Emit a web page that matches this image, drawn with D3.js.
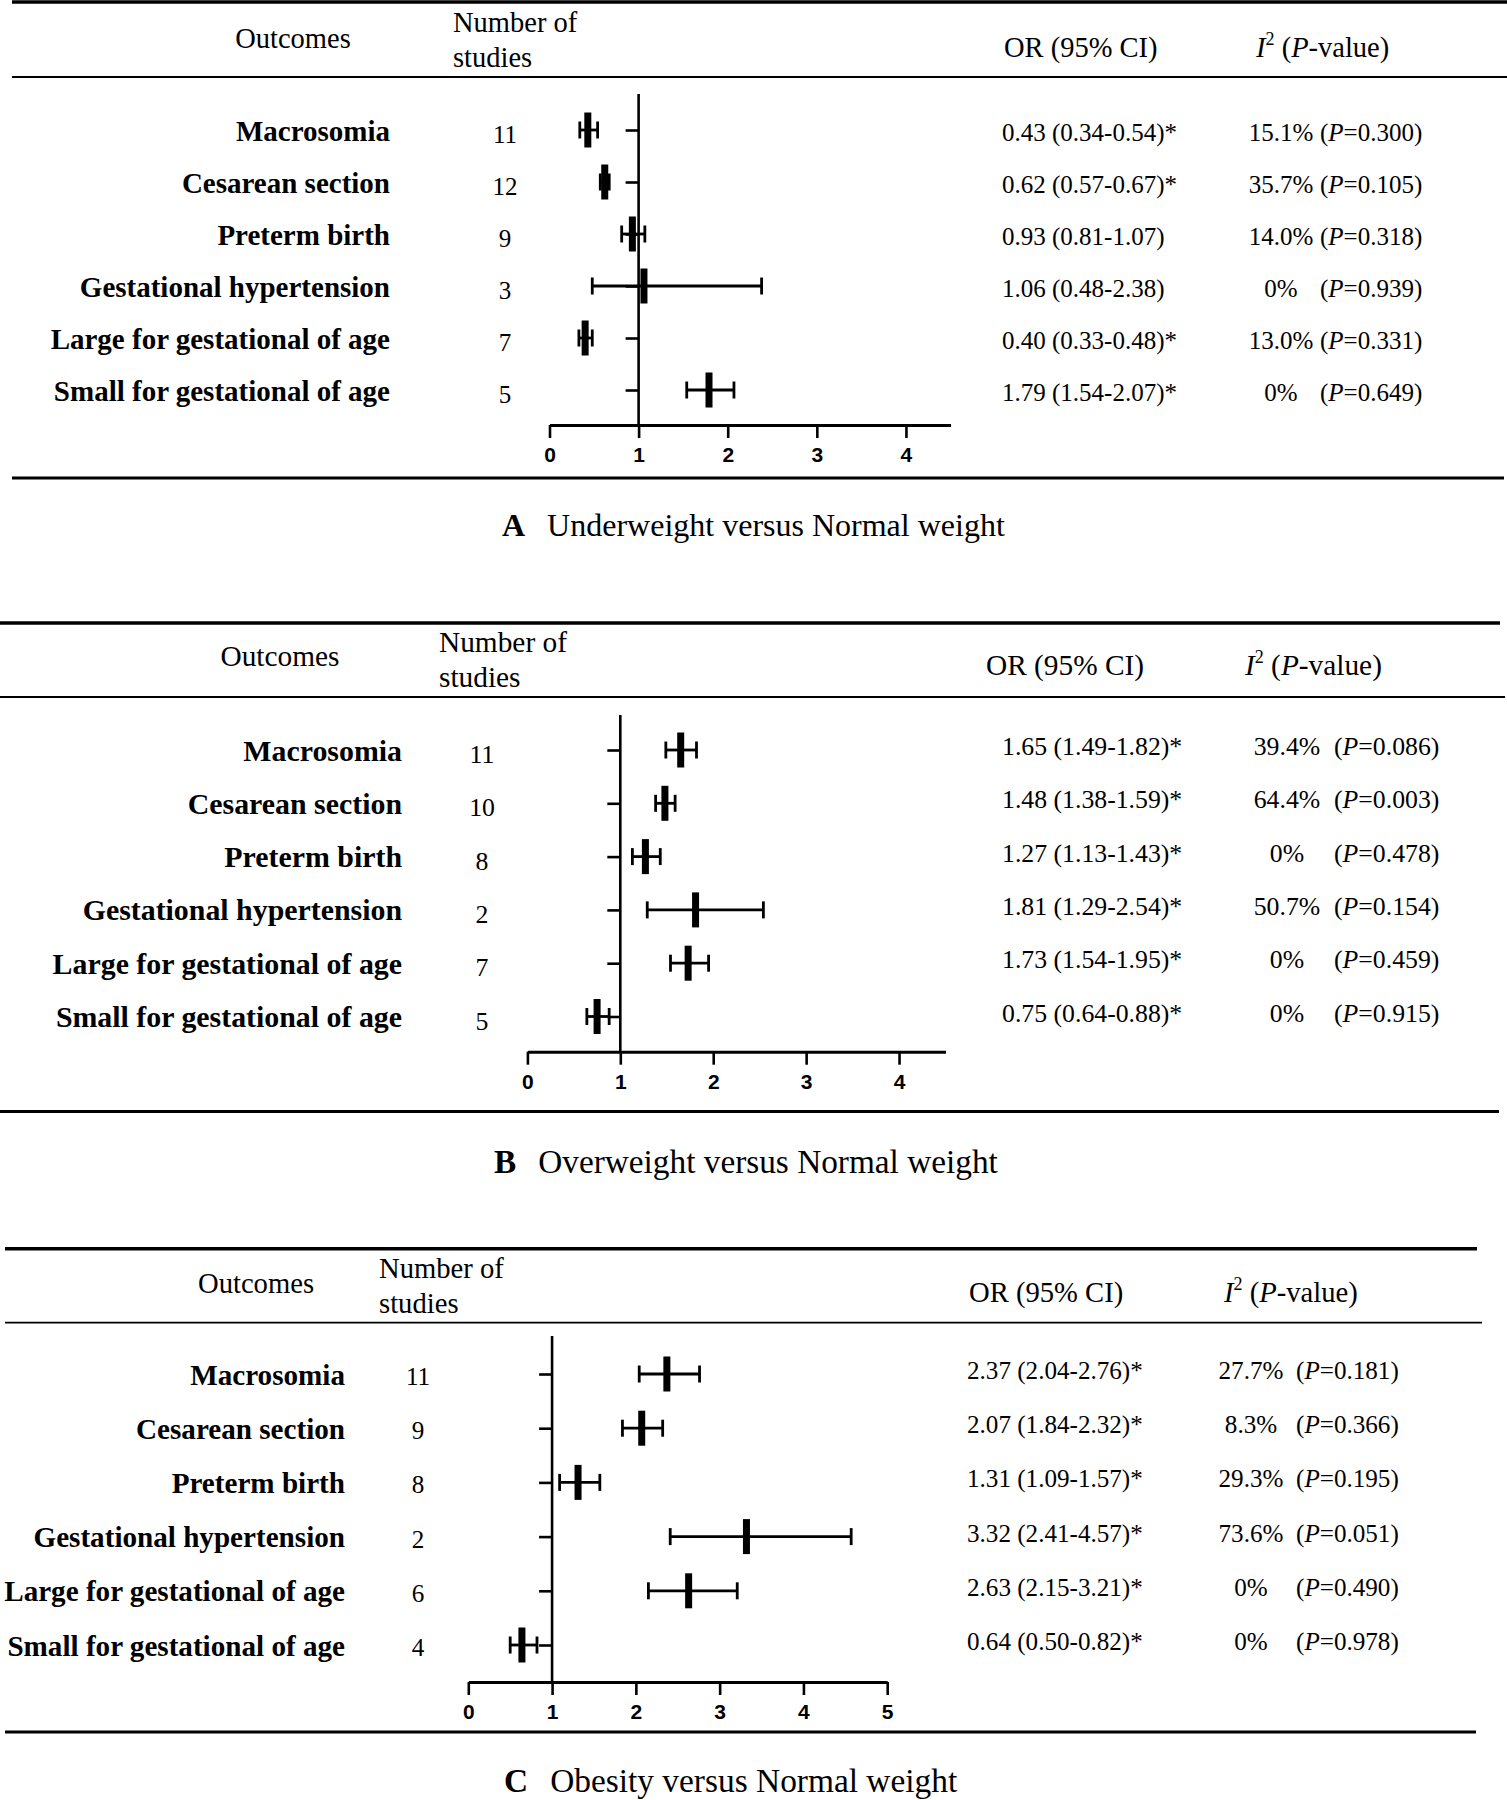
<!DOCTYPE html>
<html>
<head>
<meta charset="utf-8">
<script src="https://d3js.org/d3.v7.min.js"></script>
<style>
  body { margin: 0; background: #fff; }
  svg { display: block; background: #fff; }
  .serif { font-family: "Liberation Serif", "Times New Roman", serif; fill: #000; }
  .label { font-weight: bold; }
  .axis text { font-family: "Liberation Sans", Arial, sans-serif; font-weight: bold; font-size: 21px; fill: #000; }
  .axis path, .axis line { stroke: #000; }
</style>
</head>
<body>
<div id="chart"></div>
<script>

// DATA

var outcomes = [
    'Macrosomia',
    'Cesarean section',
    'Preterm birth',
    'Gestational hypertension',
    'Large for gestational of age',
    'Small for gestational of age'
];

// A  Underweight versus Normal weight
var studiesA = [11, 12, 9, 3, 7, 5];
var orA      = [0.43, 0.62, 0.93, 1.06, 0.40, 1.79];
var lowA     = [0.34, 0.57, 0.81, 0.48, 0.33, 1.54];
var highA    = [0.54, 0.67, 1.07, 2.38, 0.48, 2.07];
var i2A      = ['15.1%', '35.7%', '14.0%', '0%', '13.0%', '0%'];
var pA       = ['0.300', '0.105', '0.318', '0.939', '0.331', '0.649'];

// B  Overweight versus Normal weight
var studiesB = [11, 10, 8, 2, 7, 5];
var orB      = [1.65, 1.48, 1.27, 1.81, 1.73, 0.75];
var lowB     = [1.49, 1.38, 1.13, 1.29, 1.54, 0.64];
var highB    = [1.82, 1.59, 1.43, 2.54, 1.95, 0.88];
var i2B      = ['39.4%', '64.4%', '0%', '50.7%', '0%', '0%'];
var pB       = ['0.086', '0.003', '0.478', '0.154', '0.459', '0.915'];

// C  Obesity versus Normal weight
var studiesC = [11, 9, 8, 2, 6, 4];
var orC      = [2.37, 2.07, 1.31, 3.32, 2.63, 0.64];
var lowC     = [2.04, 1.84, 1.09, 2.41, 2.15, 0.50];
var highC    = [2.76, 2.32, 1.57, 4.57, 3.21, 0.82];
var i2C      = ['27.7%', '8.3%', '29.3%', '73.6%', '0%', '0%'];
var pC       = ['0.181', '0.366', '0.195', '0.051', '0.490', '0.978'];

var ticksAB = [0, 1, 2, 3, 4];
var ticksC  = [0, 1, 2, 3, 4, 5];


// LAYOUT (pixel positions of each panel)

var panels = [
    { key: 'A', caption: 'Underweight versus Normal weight',
      studies: studiesA, or: orA, low: lowA, high: highA, i2: i2A, p: pA,
      ticks: ticksAB, maxX: 4.5, fontScale: 1, capSize: 32,
      rules: [ [12, 1507, 2, 3.5], [12, 1507, 77, 1.8], [12, 1504, 478, 3] ],
      hOutX: 293, hOutY: 48, hNumX: 453, hNumY: 32, hOrX: 1004, hOrY: 57, hI2X: 1256, hI2Y: 57,
      labelX: 390, numX: 505, orX: 1002, i2X: 1281, pX: 1320,
      rowTop: 130, rowBottom: 390, labelDy: 11, numDy: 13, orDy: 11,
      x0: 549.5, x1: 950.5, axisY: 425, refTop: 94,
      capX: 502, capY: 536 },

    { key: 'B', caption: 'Overweight versus Normal weight',
      studies: studiesB, or: orB, low: lowB, high: highB, i2: i2B, p: pB,
      ticks: ticksAB, maxX: 4.5, fontScale: 1.03, capSize: 33.3,
      rules: [ [0, 1500, 623, 3.5], [0, 1505, 697, 1.8], [0, 1499, 1111.5, 3] ],
      hOutX: 280, hOutY: 666, hNumX: 439, hNumY: 652, hOrX: 986, hOrY: 675, hI2X: 1245, hI2Y: 675,
      labelX: 402, numX: 482, orX: 1002, i2X: 1287, pX: 1334,
      rowTop: 750, rowBottom: 1016.5, labelDy: 10.5, numDy: 13, orDy: 5,
      x0: 527.4, x1: 945.5, axisY: 1051.7, refTop: 715,
      capX: 494, capY: 1172.5 },

    { key: 'C', caption: 'Obesity versus Normal weight',
      studies: studiesC, or: orC, low: lowC, high: highC, i2: i2C, p: pC,
      ticks: ticksC, maxX: 5, fontScale: 1.005, capSize: 33.4,
      rules: [ [5, 1477, 1248.7, 3.5], [5, 1482, 1322.6, 1.8], [5, 1476, 1732, 3] ],
      hOutX: 256, hOutY: 1292.7, hNumX: 379, hNumY: 1278, hOrX: 969, hOrY: 1301.7, hI2X: 1224, hI2Y: 1302,
      labelX: 345, numX: 418, orX: 967, i2X: 1251, pX: 1296,
      rowTop: 1374, rowBottom: 1645, labelDy: 10.5, numDy: 11, orDy: 5,
      x0: 468.3, x1: 887.2, axisY: 1682, refTop: 1336,
      capX: 504, capY: 1792 }
];

var width = 1507;
var height = 1800;

// Base font sizes, scaled per panel
var labelSize = 29;
var headSize = 28.5;
var cellSize = 25;

var capHeight = 17;      // whisker end caps
var markWidth = 7;       // point estimate bar
var markHeight = 35;


// HELPERS

function fmt( v ) {
    return v.toFixed( 2 );
}

// OR text, starred when the CI excludes 1
function orText( pn, i ) {
    var star = ( pn.low[i] > 1 || pn.high[i] < 1 ) ? '*' : '';
    return fmt( pn.or[i] ) + ' (' + fmt( pn.low[i] ) + '-' + fmt( pn.high[i] ) + ')' + star;
}


// DRAW

var svg = d3.select( '#chart' ).append( 'svg' )
    .attr( 'width', width )
    .attr( 'height', height );

panels.forEach( function( pn ) {

    var g = svg.append( 'g' ).attr( 'class', 'panel panel-' + pn.key );
    var rows = d3.range( outcomes.length );

    var fLabel = ( labelSize * pn.fontScale ) + 'px';
    var fHead = ( headSize * pn.fontScale ) + 'px';
    var fCell = ( cellSize * pn.fontScale ) + 'px';

    var x = d3.scaleLinear()
        .domain( [0, pn.maxX] )
        .range( [pn.x0, pn.x1] );

    var y = d3.scalePoint()
        .domain( outcomes )
        .range( [pn.rowTop, pn.rowBottom] );

    // Table rules
    g.selectAll( 'line.rule' )
        .data( pn.rules )
        .enter().append( 'line' )
        .attr( 'class', 'rule' )
        .attr( 'x1', function( d ) { return d[0]; } )
        .attr( 'x2', function( d ) { return d[1]; } )
        .attr( 'y1', function( d ) { return d[2]; } )
        .attr( 'y2', function( d ) { return d[2]; } )
        .attr( 'stroke', '#000' )
        .attr( 'stroke-width', function( d ) { return d[3]; } );

    // Headers
    g.append( 'text' )
        .attr( 'class', 'serif head' )
        .attr( 'font-size', fHead )
        .attr( 'x', pn.hOutX ).attr( 'y', pn.hOutY )
        .attr( 'text-anchor', 'middle' )
        .text( 'Outcomes' );

    g.append( 'text' )
        .attr( 'class', 'serif head' )
        .attr( 'font-size', fHead )
        .attr( 'x', pn.hNumX ).attr( 'y', pn.hNumY )
        .text( 'Number of' );
    g.append( 'text' )
        .attr( 'class', 'serif head' )
        .attr( 'font-size', fHead )
        .attr( 'x', pn.hNumX ).attr( 'y', pn.hNumY + 34.5 )
        .text( 'studies' );

    g.append( 'text' )
        .attr( 'class', 'serif head' )
        .attr( 'font-size', fHead )
        .attr( 'x', pn.hOrX ).attr( 'y', pn.hOrY )
        .text( 'OR (95% CI)' );

    var i2h = g.append( 'text' )
        .attr( 'class', 'serif head' )
        .attr( 'font-size', fHead )
        .attr( 'x', pn.hI2X ).attr( 'y', pn.hI2Y );
    i2h.append( 'tspan' ).attr( 'font-style', 'italic' ).text( 'I' );
    i2h.append( 'tspan' ).attr( 'font-size', '18px' ).attr( 'dy', -12 ).text( '2' );
    i2h.append( 'tspan' ).attr( 'dy', 12 ).text( ' (' );
    i2h.append( 'tspan' ).attr( 'font-style', 'italic' ).text( 'P' );
    i2h.append( 'tspan' ).text( '-value)' );

    // Row labels
    g.selectAll( 'text.label' )
        .data( outcomes )
        .enter().append( 'text' )
        .attr( 'class', 'serif label' )
        .attr( 'font-size', fLabel )
        .attr( 'x', pn.labelX )
        .attr( 'y', function( d ) { return y( d ) + pn.labelDy; } )
        .attr( 'text-anchor', 'end' )
        .text( function( d ) { return d; } );

    // Number of studies
    g.selectAll( 'text.num' )
        .data( rows )
        .enter().append( 'text' )
        .attr( 'class', 'serif num' )
        .attr( 'font-size', fCell )
        .attr( 'x', pn.numX )
        .attr( 'y', function( i ) { return y( outcomes[i] ) + pn.numDy; } )
        .attr( 'text-anchor', 'middle' )
        .text( function( i ) { return pn.studies[i]; } );

    // OR (95% CI)
    g.selectAll( 'text.or' )
        .data( rows )
        .enter().append( 'text' )
        .attr( 'class', 'serif or' )
        .attr( 'font-size', fCell )
        .attr( 'x', pn.orX )
        .attr( 'y', function( i ) { return y( outcomes[i] ) + pn.orDy; } )
        .text( function( i ) { return orText( pn, i ); } );

    // I2 and P-value
    g.selectAll( 'text.i2' )
        .data( rows )
        .enter().append( 'text' )
        .attr( 'class', 'serif i2' )
        .attr( 'font-size', fCell )
        .attr( 'x', pn.i2X )
        .attr( 'y', function( i ) { return y( outcomes[i] ) + pn.orDy; } )
        .attr( 'text-anchor', 'middle' )
        .text( function( i ) { return pn.i2[i]; } );

    var pt = g.selectAll( 'text.pv' )
        .data( rows )
        .enter().append( 'text' )
        .attr( 'class', 'serif pv' )
        .attr( 'font-size', fCell )
        .attr( 'x', pn.pX )
        .attr( 'y', function( i ) { return y( outcomes[i] ) + pn.orDy; } );
    pt.append( 'tspan' ).text( '(' );
    pt.append( 'tspan' ).attr( 'font-style', 'italic' ).text( 'P' );
    pt.append( 'tspan' ).text( function( i ) { return '=' + pn.p[i] + ')'; } );

    // X axis
    var xAxis = d3.axisBottom( x )
        .tickValues( pn.ticks )
        .tickFormat( d3.format( 'd' ) )
        .tickSize( 13 )
        .tickSizeOuter( 0 )
        .tickPadding( 9 );

    var gx = g.append( 'g' )
        .attr( 'class', 'axis axis-x' )
        .attr( 'transform', 'translate(0,' + pn.axisY + ')' )
        .call( xAxis );
    gx.select( '.domain' ).attr( 'stroke-width', 3 );
    gx.selectAll( '.tick line' ).attr( 'stroke-width', 2.6 );

    // Reference line at OR = 1, with a tick per outcome
    var yAxis = d3.axisLeft( y )
        .tickSize( 13 )
        .tickSizeOuter( 0 )
        .tickFormat( '' );

    var gy = g.append( 'g' )
        .attr( 'class', 'axis axis-ref' )
        .attr( 'transform', 'translate(' + x( 1 ) + ',0)' )
        .call( yAxis );
    gy.select( '.domain' ).remove();
    gy.selectAll( '.tick line' ).attr( 'stroke-width', 2.6 );
    gy.append( 'line' )
        .attr( 'x1', 0 ).attr( 'x2', 0 )
        .attr( 'y1', pn.refTop ).attr( 'y2', pn.axisY )
        .attr( 'stroke', '#000' )
        .attr( 'stroke-width', 2.6 );

    // Confidence intervals
    var ci = g.selectAll( 'g.ci' )
        .data( rows )
        .enter().append( 'g' )
        .attr( 'class', 'ci' );

    ci.append( 'line' )
        .attr( 'x1', function( i ) { return x( pn.low[i] ); } )
        .attr( 'x2', function( i ) { return x( pn.high[i] ); } )
        .attr( 'y1', function( i ) { return y( outcomes[i] ); } )
        .attr( 'y2', function( i ) { return y( outcomes[i] ); } )
        .attr( 'stroke', '#000' )
        .attr( 'stroke-width', 2.8 );

    [ 'low', 'high' ].forEach( function( end ) {
        ci.append( 'line' )
            .attr( 'x1', function( i ) { return x( pn[end][i] ); } )
            .attr( 'x2', function( i ) { return x( pn[end][i] ); } )
            .attr( 'y1', function( i ) { return y( outcomes[i] ) - capHeight / 2; } )
            .attr( 'y2', function( i ) { return y( outcomes[i] ) + capHeight / 2; } )
            .attr( 'stroke', '#000' )
            .attr( 'stroke-width', 2.8 );
    } );

    ci.append( 'rect' )
        .attr( 'x', function( i ) { return x( pn.or[i] ) - markWidth / 2; } )
        .attr( 'y', function( i ) { return y( outcomes[i] ) - markHeight / 2; } )
        .attr( 'width', markWidth )
        .attr( 'height', markHeight )
        .attr( 'fill', '#000' );

    // Caption
    var cap = g.append( 'text' )
        .attr( 'class', 'serif caption' )
        .attr( 'font-size', pn.capSize + 'px' )
        .attr( 'x', pn.capX ).attr( 'y', pn.capY );
    cap.append( 'tspan' ).attr( 'font-weight', 'bold' ).text( pn.key );
    cap.append( 'tspan' ).attr( 'dx', 22 ).text( pn.caption );

} );

</script>
</body>
</html>
